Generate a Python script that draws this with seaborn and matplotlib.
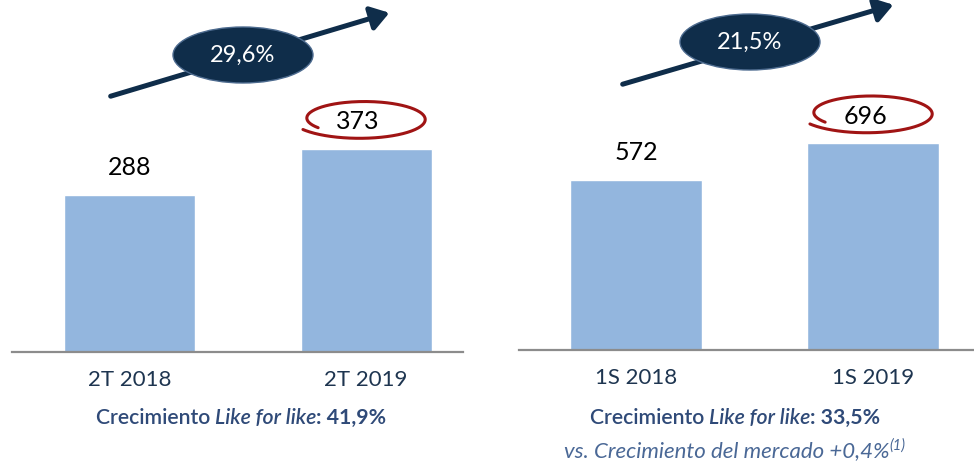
import numpy as np
import matplotlib
matplotlib.use("Agg")
import matplotlib.pyplot as plt
import seaborn as sns
from matplotlib.patches import Ellipse, FancyArrowPatch

# data
quarter_labels = ["2T 2018", "2T 2019"]
quarter_values = [288, 373]
half_labels = ["1S 2018", "1S 2019"]
half_values = [572, 696]
growth_labels = ["29,6%", "21,5%"]
lfl_labels = ["41,9%", "33,5%"]
market_label = "+0,4%"

bar_color = "#93B6DE"
navy = "#0F2D4A"
text_navy = "#1E3550"
sub_blue = "#2F4A78"
red = "#A01414"

sns.set_theme(style="white")
plt.rcParams['font.family'] = ['Lato', 'DejaVu Sans']

W, H = 974, 463
fig = plt.figure(figsize=(W / 100, H / 100), dpi=100)


def px(x, y):
    # pixel position (from top-left) -> figure fraction
    return x / W, 1 - y / H


def rect(x0, x1, ybase, ytop):
    return [x0 / W, 1 - ybase / H, (x1 - x0) / W, (ybase - ytop) / H]


ax1 = fig.add_axes(rect(12, 463, 352, 0))
ax2 = fig.add_axes(rect(519, 974, 350, 0))

panels = [
    (ax1, quarter_labels, quarter_values, (-0.497, 1.41), 646),
    (ax2, half_labels, half_values, (-0.494, 1.426), 1178),
]

for ax, labels, values, xl, ytop in panels:
    sns.barplot(x=labels, y=values, ax=ax, color=bar_color, saturation=1, width=0.554)
    ax.set_xlim(*xl)
    ax.set_ylim(0, ytop)
    for s in ["top", "left", "right"]:
        ax.spines[s].set_visible(False)
    ax.spines["bottom"].set_color("#8C8C8C")
    ax.spines["bottom"].set_linewidth(1.6)
    ax.set_yticks([])
    ax.tick_params(axis="x", length=0, pad=13, labelsize=16, labelcolor=text_navy)
    ax.set_facecolor("none")
    for i, v in enumerate(values):
        dx = 0 if i == 0 else -8
        ax.annotate(str(v), (i, v), xytext=(dx * 0.72, 19.5), textcoords="offset points",
                    ha="center", va="center", fontsize=18, color="black")
    # red hand-drawn loop around second value
    cx, cy = ax.transData.transform((1, values[1]))
    cx += -4
    cy += 30
    th = np.radians(np.linspace(215, -148, 200))
    sc = np.linspace(0.8, 1.04, 200)
    xs = cx + 67 * sc * np.cos(th)
    ys = cy + 19.5 * sc * np.sin(th)
    fig.add_artist(plt.Line2D(xs / W, ys / H, transform=fig.transFigure, color=red, lw=2.2))

# growth arrows with badges
arrows = [((108, 97), (392, 12), (243, 55)), ((620, 85), (896, 4), (750, 42))]
for (p0, p1, c), g in zip(arrows, growth_labels):
    arr = FancyArrowPatch(px(*p0), px(*p1), transform=fig.transFigure,
                          arrowstyle="-|>,head_length=0.6,head_width=0.4",
                          mutation_scale=18, color=navy, lw=3.6)
    fig.add_artist(arr)
    el = Ellipse(px(*c), 140 / W, 56 / H, transform=fig.transFigure,
                 facecolor=navy, edgecolor="#4D6B8F", lw=1.0, zorder=5)
    fig.add_artist(el)
    fig.text(*px(*c), g, ha="center", va="center", color="white", fontsize=17, zorder=6)

# rich text lines under the bars
fig.canvas.draw()
renderer = fig.canvas.get_renderer()


def rich_line(xc, y, parts, size, color):
    texts = []
    for s, kw in parts:
        t = fig.text(0, 0, s, fontsize=kw.get("size", size), color=color,
                     fontweight=kw.get("weight", "semibold"), fontstyle=kw.get("style", "normal"),
                     va="baseline", ha="left")
        texts.append((t, kw.get("rise", 0)))
    widths = [t.get_window_extent(renderer).width for t, _ in texts]
    x = xc - sum(widths) / 2
    for (t, rise), w in zip(texts, widths):
        t.set_position(((x) / W, 1 - (y - rise) / H))
        x += w


rich_line(241, 424, [("Crecimiento ", {}), ("Like for like", {"style": "italic"}),
                     (": " + lfl_labels[0], {"weight": "bold"})], 15.3, sub_blue)
rich_line(735, 424, [("Crecimiento ", {}), ("Like for like", {"style": "italic"}),
                     (": " + lfl_labels[1], {"weight": "bold"})], 15.3, sub_blue)
rich_line(735, 457, [("vs. Crecimiento del mercado " + market_label, {"style": "italic", "weight": "normal"}),
                     ("(1)", {"style": "italic", "weight": "normal", "size": 10.5, "rise": 7})],
          16, "#4A6896")

fig.savefig("out.png", dpi=100)
